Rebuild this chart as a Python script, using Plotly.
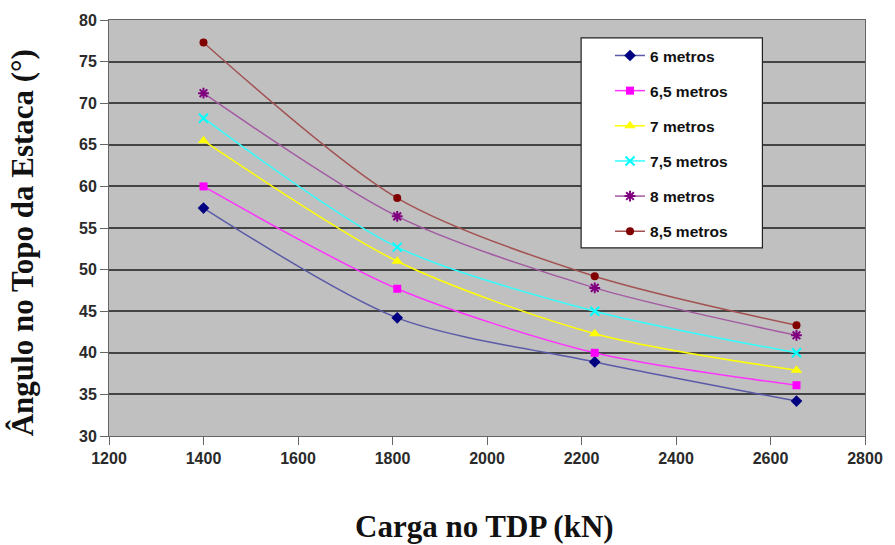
import plotly.graph_objects as go

x_vals = [1400, 1810, 2228, 2655]
series_names = ["6 metros", "6,5 metros", "7 metros", "7,5 metros", "8 metros", "8,5 metros"]
y_6 = [57.4, 44.2, 38.9, 34.2]
y_65 = [60.0, 47.7, 40.0, 36.1]
y_7 = [65.5, 51.0, 42.3, 37.9]
y_75 = [68.2, 52.7, 45.0, 40.0]
y_8 = [71.2, 56.4, 47.8, 42.1]
y_85 = [77.3, 58.6, 49.2, 43.3]
series_values = [y_6, y_65, y_7, y_75, y_8, y_85]
x_ticks = [1200, 1400, 1600, 1800, 2000, 2200, 2400, 2600, 2800]
y_ticks = [30, 35, 40, 45, 50, 55, 60, 65, 70, 75, 80]
x_title = "Carga no TDP (kN)"
y_title = "Ângulo no Topo da Estaca (°)"

line_colors = ["#5a5aa8", "#ff33ff", "#ffff00", "#33ffff", "#a35aa3", "#a35252"]
marker_colors = ["#000080", "#ff00ff", "#ffff00", "#00ffff", "#800080", "#800000"]
symbols = ["diamond", "square", "triangle-up", "x-thin", "asterisk", "circle"]
marker_sizes = [9, 8, 10, 9, 9, 8]

fig = go.Figure()
for i, (name, ys) in enumerate(zip(series_names, series_values)):
    sym = symbols[i]
    mk = dict(symbol=sym, size=marker_sizes[i], color=marker_colors[i])
    if sym in ("x-thin", "asterisk"):
        mk = dict(symbol=sym + "-open", size=marker_sizes[i], color=marker_colors[i],
                  line=dict(color=marker_colors[i], width=2))
    fig.add_trace(go.Scatter(
        x=x_vals, y=ys, name="<b>" + name + "</b>", mode="lines+markers",
        line=dict(color=line_colors[i], width=1.5, shape="spline", smoothing=0.8),
        marker=mk, legendgroup=name,
    ))

# plot area pixel geometry: x 109..868, y 18..436
def px_x(p):
    return (p - 109) / (868 - 109)

def px_y(p):
    return 1 - (p - 18) / (436 - 18)

fig.add_shape(type="rect", xref="paper", yref="paper",
              x0=px_x(583), x1=px_x(765), y0=px_y(247), y1=px_y(36),
              fillcolor="white", line=dict(color="#222", width=1.2), layer="above")

tick_font = dict(family="Liberation Sans, Arial, sans-serif", size=16, color="#2a2a2a")
title_font = dict(family="Liberation Serif, Times New Roman, serif", size=31, color="#111")

fig.add_annotation(text="<b>" + y_title + "</b>", xref="paper", yref="paper",
                   x=px_x(23), y=px_y(242), textangle=-90, showarrow=False,
                   xanchor="center", yanchor="middle", font=title_font)
fig.add_annotation(text="<b>" + x_title + "</b>", xref="paper", yref="paper",
                   x=px_x(486), y=px_y(527), showarrow=False,
                   xanchor="center", yanchor="middle", font=title_font)

fig.update_layout(
    width=895, height=545,
    margin=dict(l=109, r=27, t=18, b=109),
    paper_bgcolor="white",
    plot_bgcolor="#c0c0c0",
    font=dict(family="Liberation Sans, Arial, sans-serif", size=16, color="#222"),
    showlegend=True,
    legend=dict(
        x=px_x(612), y=px_y(37), xanchor="left", yanchor="top",
        bgcolor="rgba(0,0,0,0)", borderwidth=0,
        font=dict(family="Liberation Sans, Arial, sans-serif", size=15.5, color="#111"),
        tracegroupgap=12,
    ),
    xaxis=dict(
        range=[1200, 2800], tickvals=x_ticks, ticktext=["<b>%d</b>" % v for v in x_ticks],
        showgrid=False, zeroline=False,
        showline=True, linecolor="#666", linewidth=1, mirror=True,
        ticks="outside", ticklen=8, tickcolor="#666", tickfont=tick_font,
    ),
    yaxis=dict(
        range=[30, 80], tickvals=y_ticks, ticktext=["<b>%d</b>" % v for v in y_ticks],
        showgrid=True, gridcolor="#444", gridwidth=1.5, zeroline=False,
        showline=True, linecolor="#666", linewidth=1, mirror=True,
        ticks="outside", ticklen=8, tickcolor="#666", tickfont=tick_font,
    ),
)

fig.write_html("out.html")
